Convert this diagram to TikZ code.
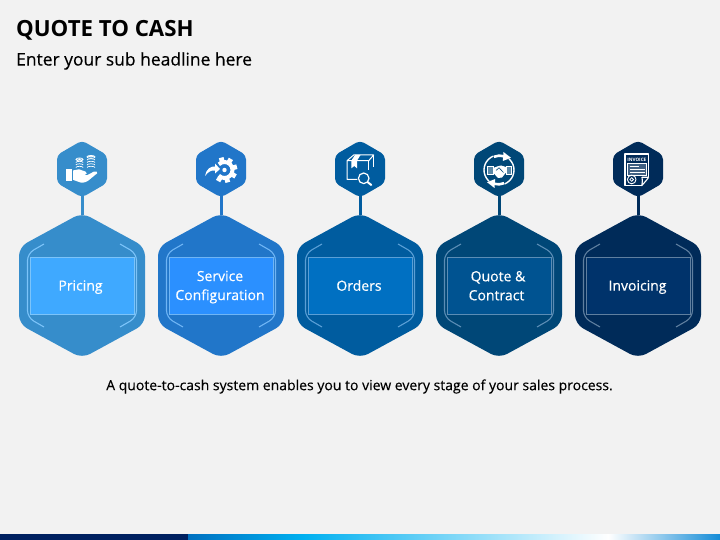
\documentclass[tikz,border=0pt]{standalone}
\usepackage{fontspec}
\setmainfont{Open Sans}
\newfontfamily\bodyfont[FakeBold=0.25]{Open Sans}
\newfontfamily\boxfont[FakeBold=0.45]{Open Sans}
\usetikzlibrary{calc}
\definecolor{bgc}{HTML}{F2F2F2}
\definecolor{hexa}{HTML}{368DCB}\definecolor{recta}{HTML}{3FA9FF}\definecolor{linea}{HTML}{7CC4FA}
\definecolor{hexb}{HTML}{2176C9}\definecolor{rectb}{HTML}{2B90FF}\definecolor{lineb}{HTML}{6FB5F5}
\definecolor{hexc}{HTML}{005C9F}\definecolor{rectc}{HTML}{0070C2}\definecolor{linec}{HTML}{5A9FD6}
\definecolor{hexd}{HTML}{004777}\definecolor{rectd}{HTML}{005391}\definecolor{lined}{HTML}{5B8DB5}
\definecolor{hexe}{HTML}{002B59}\definecolor{recte}{HTML}{00336B}\definecolor{linee}{HTML}{5F7F9F}
\definecolor{barna}{HTML}{002060}\definecolor{barb}{HTML}{0070C0}\definecolor{barc}{HTML}{00B0F0}\definecolor{bard}{HTML}{148CD7}
\newcommand{\ls}{\rule[-3pt]{0pt}{16pt}}
\tikzset{
  anchorbox/.style={minimum width=#1,inner sep=0pt,outer sep=0pt},
  labelbox/.style={draw,line width=0.8pt,minimum width=104.5,minimum height=57.5,inner sep=0pt,outer sep=0pt,
    text=white,align=center,font=\fontsize{14}{19}\selectfont\boxfont},
  icon/.style={white,line width=1pt},
  title/.style={anchor=west,inner sep=0pt,font=\fontsize{22.25}{26}\selectfont\bfseries,text=black},
  subtitle/.style={anchor=west,inner sep=0pt,font=\fontsize{17.45}{20}\selectfont\bodyfont,text=black},
  caption/.style={inner sep=0pt,font=\fontsize{14}{16}\selectfont\bodyfont,text=black}
}
\newcommand{\hexunit}[6]{%
  \fill[#3,rounded corners=4.5] (#2,140.5)--(#2+25,155)--(#2+25,183)--(#2,197.5)--(#2-25,183)--(#2-25,155)--cycle;
  \node[anchorbox=50,minimum height=54] (sm#1) at (#2,169) {};
  \node[anchorbox=126,minimum height=141] (big#1) at (#2,285.5) {};
  \draw[#3,line width=3pt] (sm#1.south) -- (big#1.north);
  \fill[#3,rounded corners=9] (#2,212.7)--(#2+63,247)--(#2+63,324)--(#2,358.3)--(#2-63,324)--(#2-63,247)--cycle;
  \draw[#5,line width=1.1pt,rounded corners=7] (#2-38,244)--(#2-54.5,253.5)--(#2-54.5,317.5)--(#2-38,327);
  \draw[#5,line width=1.1pt,rounded corners=7] (#2+38,244)--(#2+54.5,253.5)--(#2+54.5,317.5)--(#2+38,327);
  \node[labelbox,fill=#4,draw=#5] (box#1) at (#2+0.5,285.75) {#6};
}
\newcommand{\coins}[4]{%
  \foreach \k in {1,...,#4}{
    \draw[white,line width=0.7pt] (#1-#3,#2-\k*2.5) arc[start angle=180,end angle=360,x radius=#3,y radius=1.2];
  }
  \draw[white,line width=0.7pt] (#1,#2-#4*2.5-0.6) ellipse[x radius=#3,y radius=1.5];
  \fill[white] (#1,#2-#4*2.5-0.6) ellipse[x radius=#3*0.45,y radius=0.6];
}
\begin{document}
\begin{tikzpicture}[x=1pt,y=-1pt]
\useasboundingbox (0,0) rectangle (720,540);
\fill[bgc] (0,0) rectangle (720,540);

\node[title] (ttl) at (16,30.5) {QUOTE TO CASH};
\node[subtitle] (sub) at (16,61) {Enter your sub headline here};

\hexunit{1}{82}{hexa}{recta}{linea}{\hspace*{-4pt}\ls Pricing}
\hexunit{2}{221}{hexb}{rectb}{lineb}{\hspace*{-3pt}\ls Service\\\hspace*{-3pt}\ls Configuration}
\hexunit{3}{360}{hexc}{rectc}{linec}{\hspace*{-3pt}\ls Orders}
\hexunit{4}{499}{hexd}{rectd}{lined}{\hspace*{-3pt}\ls Quote \&\\\hspace*{-6pt}\ls Contract}
\hexunit{5}{638}{hexe}{recte}{linee}{\hspace*{-2pt}\ls Invoicing}

\node[caption] (cap) at (359.5,386.5) {A quote-to-cash system enables you to view every stage of your sales process.};

% --- icon 1: hand with coins
\begin{scope}[shift={(82,169)}]
  \fill[white] (-16,0) rectangle (-10,12);
  \fill[white] (-9,1.5)--(-3,0.3)--(3.5,2.6) .. controls (5.5,3.4) and (5,5.8) .. (3,5.6)--(-1,5.5)--(5,6.2)--(12,2.6) .. controls (14,2) and (16,3) .. (15.3,4.2)--(6,11.8) .. controls (3,14) and (-1,14) .. (-3,13)--(-9,10.8)--cycle;
  \coins{-2.5}{1}{3.6}{4}
  \coins{9}{1}{4}{5}
\end{scope}

% --- icon 2: gear and arrow
\begin{scope}[shift={(221,169)}]
  \begin{scope}[shift={(3.5,1)}]
    \draw[white,line width=4pt] (-135:8) arc[start angle=-135,end angle=135,radius=8];
    \foreach \a in {-120,-75,-30,15,60,105}{
      \fill[white,rotate=\a] (8,-2.4) rectangle (12.8,2.4);
    }
    \fill[white] (0,0) circle[radius=2.2];
  \end{scope}
  \fill[white] (-16,7) .. controls (-15,0) and (-10,-3) .. (-6,-2.5)--(-6,-5.5)--(-1,0)--(-6,4.5)--(-6,1.5) .. controls (-10,1) and (-13,3) .. (-16,7)--cycle;
\end{scope}

% --- icon 3: box and magnifier
\begin{scope}[shift={(360,169)}]
  \draw[icon,line join=round] (-2,10.3)--(-13,10.3)--(-13,-8.3)--(-6.3,-14)--(13.7,-14)--(8.7,-8.3)--(-13,-8.3);
  \draw[icon] (8.7,-8.3)--(8.7,1);
  \draw[icon] (13.7,-14)--(13.7,-2);
  \fill[white] (-8.7,-8.3)--(-3,-8.3)--(-3,-0.7)--(-5.7,-3)--(-8.7,-0.7)--cycle;
  \fill[white] (-5,-14)--(0.5,-14)--(-3,-8.3)--(-8.7,-8.3)--cycle;
  \fill[hexc] (3.7,9.3) circle[radius=6.5];
  \draw[icon,line width=1.2pt] (3.7,9.3) circle[radius=5.3];
  \draw[white,line width=2pt,line cap=round] (7.6,13.1)--(11.3,16);
\end{scope}

% --- icon 4: handshake with cycle arrows
\begin{scope}[shift={(499,169)}]
  \begin{scope}[shift={(0,1)}]
    \draw[white,line width=1.4pt] (-112:15) arc[start angle=-112,end angle=-228,radius=15];
    \draw[white,line width=1.4pt] (68:15) arc[start angle=68,end angle=-48,radius=15];
    \foreach \r in {0,180}{
      \begin{scope}[rotate=\r]
        \draw[white,line width=2.6pt] (-5,-13.2) .. controls (-2,-14.6) and (1,-14.6) .. (5,-13.6);
        \fill[white] (4.5,-18)--(12,-12.2)--(3.8,-9)--cycle;
      \end{scope}
    }
  \end{scope}
  \fill[white,fill opacity=0.35] (-11.5,-3) rectangle (-6,5);
  \draw[white,line width=0.8pt] (-11.5,-3) rectangle (-6,5);
  \fill[white,fill opacity=0.35] (7,-3) rectangle (12,5);
  \draw[white,line width=0.8pt] (7,-3) rectangle (12,5);
  \fill[white] (-6,-1)--(-1,-2.8)--(2,-3.5)--(7,-2)--(7,3.5)--(3,8.5)--(-1,9)--(-6,3.5)--cycle;
  \draw[hexd,line width=0.6pt] (-3,1.5)--(0,-1.2)--(4.5,3.5);
\end{scope}

% --- icon 5: invoice
\begin{scope}[shift={(638,169)}]
  \draw[icon,line join=round,line width=1.1pt] (3.7,16.7)--(-13,16.7)--(-13,-15)--(10.7,-15)--(10.7,8.3);
  \draw[icon,line join=round,line width=1.1pt] (10.7,8.3) .. controls (8,12) and (6,14) .. (3.7,16.7) .. controls (4.5,13) and (4.5,10) .. (4,8.3) -- (10.7,8.3);
  \node[inner sep=0pt,text=white,font=\fontsize{4.6}{5}\selectfont\bfseries] (inv) at (-1.2,-9.2) {INVOICE};
  \draw[icon,line width=0.7pt,fill=white,fill opacity=0.25] (-10.3,-5.2) rectangle (8.2,6);
  \draw[icon,line width=0.9pt] (-8.5,-2.8)--(1,-2.8);
  \draw[icon,line width=0.9pt] (-8.5,0.3)--(6.5,0.3);
  \draw[icon,line width=0.9pt] (-8.5,3.4)--(6.5,3.4);
  \draw[icon,line width=0.9pt] (-6.3,10.5) circle[radius=4.3];
  \draw[icon,line width=0.8pt] (-6.3,10.5) circle[radius=1.8];
\end{scope}

% --- bottom bar
\fill[barna] (0,534) rectangle (188,540);
\shade[left color=barb,right color=barc] (188,534) rectangle (303,540);
\shade[left color=barc,right color=white] (303,534) rectangle (608,540);
\shade[left color=white,right color=bard] (608,534) rectangle (720,540);
\end{tikzpicture}
\end{document}
